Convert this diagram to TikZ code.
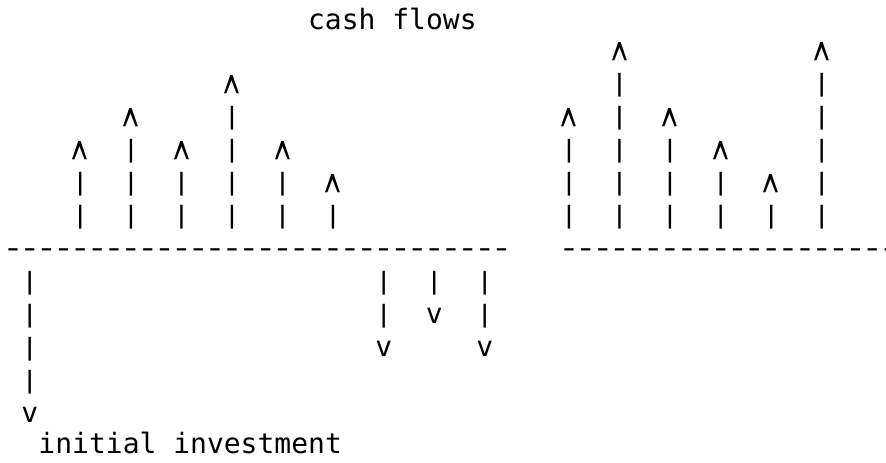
\documentclass[tikz,border=0pt]{standalone}
\usepackage{fontspec}
\newfontfamily\asciifont{DejaVu Sans Mono}
\newcommand{\upcaret}{\scalebox{1}[2.4]{\textasciicircum}}
\newcommand{\vbar}{\scalebox{1}[0.85]{|}}
\newcommand{\hdash}{\scalebox{1.3}[1]{-}}
\tikzset{
  ascii/.style={font=\asciifont\fontsize{28}{33}\selectfont, inner sep=0pt},
  glyph/.style={ascii, anchor=base, yshift=-9pt},
  stem/.style={ascii, anchor=center, yshift=-2pt},
  caret/.style={ascii, anchor=north, yshift=8pt},
  caption/.style={ascii, anchor=base west}
}

\begin{document}
\begin{tikzpicture}[x=16.85pt, y=-33pt]
  \useasboundingbox (-0.7715,-0.5152) rectangle (51.81,13.485);
  % time axes
  \foreach \c in {0,...,29} \node[glyph] (axl\c) at (\c,7) {\hdash};
  \foreach \c in {33,...,52} \node[glyph] (axr\c) at (\c,7) {\hdash};
  % inflows: column / row of the tip
  \foreach \c/\h in {4/4,7/3,10/4,13/2,16/4,19/5,33/3,36/1,39/3,42/4,45/5,48/1}{
    \node[caret] (up\c) at (\c,\h) {\upcaret};
    \foreach \r in {\h,...,5} \node[stem] (bar\c-\r) at (\c,\r+1) {\vbar};
  }
  % outflows: column / row of the tip
  \foreach \c/\b in {1/12,22/10,25/9,28/10}{
    \pgfmathtruncatemacro\e{\b-1}
    \foreach \r in {8,...,\e} \node[stem] (bar\c-\r) at (\c,\r) {\vbar};
    \node[glyph] (dn\c) at (\c,\b) {v};
  }
  \node[caption] (cashflows) at (17.5,0.38) {cash flows};
  \node[caption] (invest) at (1.5,13.24) {initial investment};
\end{tikzpicture}
\end{document}
